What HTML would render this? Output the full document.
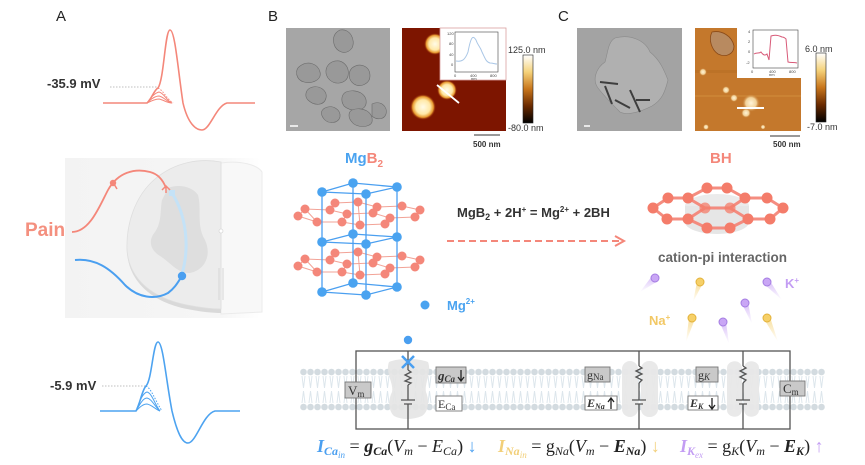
<!DOCTYPE html>
<html><head><meta charset="utf-8"><style>
html,body{margin:0;padding:0;background:#fff;}
svg{display:block;}
text{font-family:"Liberation Sans",sans-serif;}
text.ser{font-family:"Liberation Serif",serif;}
</style></head><body>
<svg width="865" height="465" viewBox="0 0 865 465" xmlns="http://www.w3.org/2000/svg">
<defs>
<linearGradient id="cbB" x1="0" y1="0" x2="0" y2="1">
<stop offset="0" stop-color="#ffffff"/><stop offset="0.25" stop-color="#f5d27a"/><stop offset="0.5" stop-color="#c8761c"/><stop offset="0.75" stop-color="#6a2a00"/><stop offset="1" stop-color="#000"/></linearGradient>
<radialGradient id="blob" cx="0.5" cy="0.5" r="0.5"><stop offset="0" stop-color="#fffbe8"/><stop offset="0.55" stop-color="#ffe9a8"/><stop offset="0.8" stop-color="#e89a30"/><stop offset="1" stop-color="#8a1c00" stop-opacity="0"/></radialGradient>
<radialGradient id="blob2" cx="0.5" cy="0.5" r="0.5"><stop offset="0" stop-color="#fff4d8"/><stop offset="0.6" stop-color="#f2d29a"/><stop offset="1" stop-color="#c4782c" stop-opacity="0"/></radialGradient>
<linearGradient id="tailP" x1="0" y1="0" x2="0" y2="1"><stop offset="0" stop-color="#c9a6f5" stop-opacity="0.7"/><stop offset="1" stop-color="#c9a6f5" stop-opacity="0"/></linearGradient>
<linearGradient id="tailY" x1="0" y1="0" x2="0" y2="1"><stop offset="0" stop-color="#f5d070" stop-opacity="0.7"/><stop offset="1" stop-color="#f5d070" stop-opacity="0"/></linearGradient>
<pattern id="heads" x="300" y="0" width="7" height="465" patternUnits="userSpaceOnUse">
<circle cx="3.5" cy="372" r="3.3" fill="#d3dbe0"/><circle cx="3.5" cy="407" r="3.3" fill="#d3dbe0"/>
<path d="M2,376 L3.5,388 L5,376 M2,403 L3.5,391 L5,403" stroke="#dde6ec" stroke-width="1" fill="none"/>
</pattern>
<linearGradient id="bgfade" x1="0" y1="0" x2="1" y2="0"><stop offset="0" stop-color="#f3f3f3"/><stop offset="0.8" stop-color="#f6f6f6"/><stop offset="1" stop-color="#ffffff"/></linearGradient>
</defs>

<!-- ================= PANEL A ================= -->
<text x="56" y="21" font-size="15" fill="#222">A</text>
<line x1="110" y1="87" x2="157" y2="87" stroke="#aaa" stroke-width="0.8" stroke-dasharray="1.5,1.5"/>
<text x="47" y="88" font-size="13" font-weight="bold" fill="#333">-35.9 mV</text>
<g fill="none" stroke="#f4877a" stroke-width="1.6">
<path d="M103,103 L147,103 C151,100 154,90 158,88 C164,80 165,30 170,30 C175,30 178,70 183,103 C188,124 196,130 202,130 C210,130 216,106 227,103 L255,103"/>
<path d="M147,103 C151,97 155,93 159,92 C164,93 167,101 172,103" stroke-width="1"/>
<path d="M147,103 C151,99 155,96 159,96 C164,97 167,102 172,103" stroke-width="1"/>
<path d="M147,103 C151,101 155,99 159,99 C164,100 167,103 172,103" stroke-width="1"/>
<path d="M158,88 C163,90 166,98 173,103" stroke-width="1" stroke-dasharray="1.5,1.5"/>
</g>

<!-- spinal cord -->
<rect x="65" y="158" width="195" height="160" fill="url(#bgfade)"/>
<path d="M221,163 C240,160 258,165 262,172 L262,312 L221,314 Z" fill="#f8f8f8" stroke="#ebebeb" stroke-width="1"/>
<path d="M221,163 C200,159 175,163 155,180 C135,197 126,225 127,252 C129,282 152,302 187,309 C202,312 213,313 221,313 Z" fill="#d9d9d9"/>
<path d="M221,162 C200,158 175,162 155,179 C135,196 126,224 127,250 C129,279 152,298 187,305 C202,308 213,309 221,309 Z" fill="#ececec" stroke="#dedede" stroke-width="0.8"/>
<path d="M168,188 C178,184 192,186 198,195 C202,210 196,225 205,240 C212,255 205,270 190,273 C178,274 170,262 160,256 C150,250 148,240 155,232 C162,222 160,210 162,200 Z" fill="#dedede"/>
<circle cx="221" cy="231" r="2" fill="#fff" stroke="#ccc" stroke-width="0.6"/>
<path d="M219,268 L219,300 M223,268 L223,300" stroke="#d6d6d6" stroke-width="1"/>
<path d="M172,193 C186,215 190,246 182,274" fill="none" stroke="#c4e2f7" stroke-width="3"/>
<rect x="169" y="190" width="6" height="6" fill="#c4e2f7"/>
<path d="M72,232 C90,232 100,205 108,190 C118,172 135,168 150,172 C158,174 163,180 166,188" fill="none" stroke="#f4877a" stroke-width="1.8"/>
<path d="M114,184 L117,189" stroke="#f4877a" stroke-width="1.5"/>
<circle cx="113" cy="183" r="3.2" fill="#f4877a"/>
<path d="M166,186 L166,193 M162,190 L166,186 L170,190" stroke="#f4877a" stroke-width="1.5" fill="none"/>
<path d="M75,260 C95,258 110,268 125,285 C138,298 155,300 168,293 C175,288 178,282 182,276" fill="none" stroke="#4a9ff0" stroke-width="2"/>
<circle cx="182" cy="276" r="4.2" fill="#4a9ff0"/>
<text x="25" y="236" font-size="19" font-weight="bold" fill="#f4907f">Pain</text>

<!-- bottom trace -->
<line x1="102" y1="386" x2="145" y2="386" stroke="#aaa" stroke-width="0.8" stroke-dasharray="1.5,1.5"/>
<text x="50" y="390" font-size="13" font-weight="bold" fill="#333">-5.9 mV</text>
<g fill="none" stroke="#4da3f0" stroke-width="1.6">
<path d="M100,411 L136,411 C140,404 142,390 146,386 C152,380 153,342 158,342 C163,342 166,380 172,411 C177,432 182,443 188,443 C196,443 203,414 215,411 L240,411"/>
<path d="M136,411 C140,400 143,393 147,392 C152,393 155,405 160,411" stroke-width="1"/>
<path d="M136,411 C140,404 143,398 147,398 C152,399 155,407 160,411" stroke-width="1"/>
<path d="M136,411 C140,407 143,404 147,404 C152,405 155,409 160,411" stroke-width="1"/>
<path d="M146,386 C151,388 155,400 162,411" stroke-width="1" stroke-dasharray="1.5,1.5"/>
</g>

<!-- ================= PANEL B ================= -->
<text x="268" y="21" font-size="15" fill="#222">B</text>
<rect x="286" y="28" width="104" height="103" fill="#a6a6a6"/>
<g fill="#999" stroke="#6c6c6c" stroke-width="0.6">
<path d="M300,66 C308,60 318,64 320,72 C322,80 312,84 304,82 C296,80 294,70 300,66 Z"/>
<path d="M332,62 C342,58 350,66 348,76 C346,84 334,86 328,78 C324,72 326,65 332,62 Z"/>
<path d="M340,30 C350,28 356,40 352,48 C346,56 336,52 334,44 C332,36 336,32 340,30 Z"/>
<path d="M352,68 C360,62 370,66 370,76 C370,84 360,88 354,84 C348,80 348,72 352,68 Z"/>
<path d="M346,92 C356,88 368,94 366,104 C364,112 350,112 344,106 C340,100 342,94 346,92 Z"/>
<path d="M310,88 C318,84 328,90 326,98 C324,106 314,106 308,100 C304,96 306,90 310,88 Z"/>
<path d="M352,110 C362,106 374,112 372,122 C370,128 356,128 352,122 C348,118 348,112 352,110 Z"/>
<path d="M325,108 C333,104 341,110 340,117 C338,124 328,124 324,119 C320,114 321,110 325,108 Z"/>
<path d="M372,104 C380,100 388,106 386,114 C384,120 376,120 372,116 Z"/>
</g>
<line x1="290" y1="126" x2="298" y2="126" stroke="#fff" stroke-width="1.5"/>
<rect x="402" y="28" width="104" height="103" fill="#7d1500"/>
<circle cx="435" cy="44" r="11" fill="url(#blob)"/>
<circle cx="447" cy="90" r="10" fill="url(#blob)"/>
<circle cx="423" cy="107" r="13" fill="url(#blob)"/>
<line x1="437" y1="85" x2="459" y2="103" stroke="#fff" stroke-width="1.8"/>
<rect x="440" y="28" width="66" height="52" fill="#fff" stroke="#d9a0a0" stroke-width="0.8"/>
<rect x="455" y="32" width="43" height="40" fill="none" stroke="#444" stroke-width="0.6"/>
<path d="M456,61 C462,62 465,60 468,52 C471,36 473,35 476,40 C478,46 480,46 482,52 C485,58 486,62 490,63 C493,63 495,64 497,64" fill="none" stroke="#a9c6e6" stroke-width="1"/>
<g font-size="4" fill="#444"><text x="447" y="35">120</text><text x="449" y="45">80</text><text x="449" y="56">40</text><text x="451" y="66">0</text><text x="454" y="77">0</text><text x="470" y="77">400</text><text x="490" y="77">800</text><text x="471" y="80">nm</text></g>
<rect x="523" y="55" width="10" height="68" fill="url(#cbB)" stroke="#222" stroke-width="0.6"/>
<text x="508" y="53" font-size="9" fill="#333">125.0 nm</text>
<text x="508" y="131" font-size="9" fill="#333">-80.0 nm</text>
<line x1="474" y1="135" x2="500" y2="135" stroke="#333" stroke-width="1"/>
<text x="473" y="147" font-size="8" font-weight="bold" fill="#333">500 nm</text>

<!-- ================= PANEL C ================= -->
<text x="558" y="21" font-size="15" fill="#222">C</text>
<rect x="577" y="28" width="105" height="103" fill="#a3a3a3"/>
<path d="M615,38 C630,34 645,40 650,52 C660,60 664,70 668,80 C665,92 662,100 652,106 C640,112 628,116 620,112 C612,104 604,96 598,88 C592,80 596,68 605,62 C608,52 608,42 615,38 Z" fill="#b0b0b0" stroke="#8a8a8a" stroke-width="0.6"/>
<path d="M600,82 L618,84 M605,86 L612,104 M630,90 L640,112 M636,100 L650,100 M615,100 L630,108" stroke="#3e3e3e" stroke-width="2"/>
<line x1="584" y1="126" x2="590" y2="126" stroke="#fff" stroke-width="1.5"/>
<rect x="695" y="28" width="106" height="103" fill="#c4782c"/>
<rect x="695" y="70" width="106" height="3" fill="#b86e24" opacity="0.6"/>
<rect x="695" y="95" width="106" height="2" fill="#d08a3a" opacity="0.6"/>
<path d="M712,32 C722,30 732,36 734,46 C734,54 726,58 718,54 C712,50 708,40 712,32 Z" fill="#b88a60" stroke="#8a4a18" stroke-width="0.8"/>
<circle cx="703" cy="72" r="4" fill="url(#blob2)"/>
<circle cx="726" cy="90" r="4" fill="url(#blob2)"/>
<circle cx="734" cy="98" r="4" fill="url(#blob2)"/>
<circle cx="751" cy="103" r="9" fill="url(#blob2)"/>
<circle cx="746" cy="113" r="5" fill="url(#blob2)"/>
<circle cx="706" cy="127" r="3" fill="url(#blob2)"/>
<circle cx="763" cy="127" r="2.5" fill="url(#blob2)"/>
<line x1="737" y1="108" x2="764" y2="108" stroke="#fff" stroke-width="2"/>
<rect x="737" y="28" width="64" height="50" fill="#fff"/>
<rect x="753" y="30" width="45" height="38" fill="none" stroke="#444" stroke-width="0.6"/>
<path d="M754,54 C757,52 759,54 761,52 C763,55 765,56 767,54 L769,60 L771,36 C776,34 780,36 782,37 C784,37 785,38 786,39 L788,62 C791,63 794,62 797,63" fill="none" stroke="#d85a78" stroke-width="1"/>
<g font-size="4" fill="#444"><text x="748" y="33">4</text><text x="748" y="43">2</text><text x="748" y="53">0</text><text x="746" y="64">-2</text><text x="751" y="73">0</text><text x="769" y="73">400</text><text x="789" y="73">800</text><text x="769" y="76">nm</text></g>
<rect x="816" y="53" width="10" height="69" fill="url(#cbB)" stroke="#222" stroke-width="0.6"/>
<text x="805" y="52" font-size="9" fill="#333">6.0 nm</text>
<text x="807" y="130" font-size="9" fill="#333">-7.0 nm</text>
<line x1="770" y1="136" x2="800" y2="136" stroke="#333" stroke-width="1"/>
<text x="773" y="147" font-size="8" font-weight="bold" fill="#333">500 nm</text>

<!-- ================= MgB2 ================= -->
<text x="345" y="163" font-size="15" font-weight="bold"><tspan fill="#4aa3f0">Mg</tspan><tspan fill="#f4877a">B</tspan><tspan fill="#f4877a" font-size="10" dy="4">2</tspan></text>
<g stroke="#f2a397" stroke-width="1" fill="none">
<path d="M298,216 L305,209 L330,210 L335,203 L358,202 L377,207 L402,206 L420,210 L415,217 L390,218 L385,224 L360,225 L342,222 L317,222 L298,216"/>
<path d="M330,210 L347,214 L342,222 M347,214 L373,213 L377,207 M373,213 L390,218 M305,209 L317,222 M358,202 L360,225"/>
</g>
<g fill="#f4877a">
<circle cx="305" cy="209" r="4.5"/><circle cx="298" cy="216" r="4.5"/><circle cx="317" cy="222" r="4.5"/><circle cx="335" cy="203" r="4.5"/><circle cx="330" cy="210" r="4.5"/><circle cx="347" cy="214" r="4.5"/><circle cx="342" cy="222" r="4.5"/><circle cx="358" cy="202" r="4.5"/><circle cx="360" cy="225" r="4.5"/><circle cx="377" cy="207" r="4.5"/><circle cx="373" cy="213" r="4.5"/><circle cx="390" cy="218" r="4.5"/><circle cx="385" cy="224" r="4.5"/><circle cx="402" cy="206" r="4.5"/><circle cx="415" cy="217" r="4.5"/><circle cx="420" cy="210" r="4.5"/>
</g>
<g transform="translate(0,50)">
<g stroke="#f2a397" stroke-width="1" fill="none">
<path d="M298,216 L305,209 L330,210 L335,203 L358,202 L377,207 L402,206 L420,210 L415,217 L390,218 L385,224 L360,225 L342,222 L317,222 L298,216"/>
<path d="M330,210 L347,214 L342,222 M347,214 L373,213 L377,207 M373,213 L390,218 M305,209 L317,222 M358,202 L360,225"/>
</g>
<g fill="#f4877a">
<circle cx="305" cy="209" r="4.5"/><circle cx="298" cy="216" r="4.5"/><circle cx="317" cy="222" r="4.5"/><circle cx="335" cy="203" r="4.5"/><circle cx="330" cy="210" r="4.5"/><circle cx="347" cy="214" r="4.5"/><circle cx="342" cy="222" r="4.5"/><circle cx="358" cy="202" r="4.5"/><circle cx="360" cy="225" r="4.5"/><circle cx="377" cy="207" r="4.5"/><circle cx="373" cy="213" r="4.5"/><circle cx="390" cy="218" r="4.5"/><circle cx="385" cy="224" r="4.5"/><circle cx="402" cy="206" r="4.5"/><circle cx="415" cy="217" r="4.5"/><circle cx="420" cy="210" r="4.5"/>
</g></g>
<g stroke="#4a9ff0" stroke-width="1.3" fill="none">
<path d="M322,192 L353,183 L397,187 L366,194 Z"/>
<path d="M322,242 L353,234 L397,237 L366,244 Z"/>
<path d="M322,292 L353,283 L397,287 L366,295 Z"/>
<path d="M322,192 L322,292 M353,183 L353,283 M366,194 L366,295 M397,187 L397,287"/>
</g>
<g fill="#4aa3f0">
<circle cx="322" cy="192" r="4.8"/><circle cx="353" cy="183" r="4.8"/><circle cx="366" cy="194" r="4.8"/><circle cx="397" cy="187" r="4.8"/>
<circle cx="322" cy="242" r="4.8"/><circle cx="353" cy="234" r="4.8"/><circle cx="366" cy="244" r="4.8"/><circle cx="397" cy="237" r="4.8"/>
<circle cx="322" cy="292" r="4.8"/><circle cx="353" cy="283" r="4.8"/><circle cx="366" cy="295" r="4.8"/><circle cx="397" cy="287" r="4.8"/>
<circle cx="425" cy="305" r="4.5"/>
</g>
<text x="447" y="310" font-size="13" font-weight="bold" fill="#4aa3f0">Mg<tspan font-size="8" dy="-6">2+</tspan></text>

<text x="457" y="217" font-size="13" font-weight="bold" fill="#333">MgB<tspan font-size="9" dy="3">2</tspan><tspan dy="-3"> + 2H</tspan><tspan font-size="8" dy="-5">+</tspan><tspan dy="5"> = Mg</tspan><tspan font-size="8" dy="-5">2+</tspan><tspan dy="5"> + 2BH</tspan></text>
<line x1="447" y1="241" x2="620" y2="241" stroke="#f4877a" stroke-width="2" stroke-dasharray="7,4"/>
<path d="M615,236 L624,241 L615,246" fill="none" stroke="#f4877a" stroke-width="2"/>

<!-- BH -->
<text x="710" y="163" font-size="15" font-weight="bold" fill="#f4877a">BH</text>
<path d="M685,206 L685,222 A32,12 0 0 0 749,222 L749,206 Z" fill="#dcdcdc" opacity="0.7"/>
<ellipse cx="717" cy="206" rx="32" ry="12" fill="#e6e6e6" opacity="0.8"/>
<g stroke="#f4877a" stroke-width="3" fill="none" opacity="0.95">
<path d="M653,208 L668,198 L688,198 L707,188 L727,188 L745,198 L767,198 L783,208 L770,219 L748,219 L730,228 L707,228 L688,219 L667,219 Z"/>
<path d="M688,198 L705,208 L730,208 L745,198 M688,219 L705,208 M730,208 L748,219"/>
</g>
<g fill="#f47c6a">
<circle cx="653" cy="208" r="5.5"/><circle cx="668" cy="198" r="5.5"/><circle cx="667" cy="219" r="5.5"/><circle cx="688" cy="198" r="5.5"/><circle cx="707" cy="188" r="5.5"/><circle cx="727" cy="188" r="5.5"/><circle cx="745" cy="198" r="5.5"/><circle cx="767" cy="198" r="5.5"/><circle cx="783" cy="208" r="5.5"/><circle cx="770" cy="219" r="5.5"/><circle cx="748" cy="219" r="5.5"/><circle cx="730" cy="228" r="5.5"/><circle cx="707" cy="228" r="5.5"/><circle cx="688" cy="219" r="5.5"/>
<circle cx="705" cy="208" r="5.5" opacity="0.75"/><circle cx="730" cy="208" r="5.5" opacity="0.75"/>
</g>
<text x="658" y="262" font-size="13.5" font-weight="bold" fill="#666">cation-pi interaction</text>

<g>
<path d="M652,276 L658,281 L640,292 Z" fill="url(#tailP)"/>
<path d="M697,282 L703,283 L693,302 Z" fill="url(#tailY)"/>
<path d="M764,284 L770,281 L782,300 Z" fill="url(#tailP)"/>
<path d="M742,304 L748,302 L752,324 Z" fill="url(#tailP)"/>
<path d="M689,318 L695,319 L686,342 Z" fill="url(#tailY)"/>
<path d="M720,323 L726,322 L729,344 Z" fill="url(#tailP)"/>
<path d="M764,319 L770,317 L778,342 Z" fill="url(#tailY)"/>
</g>
<g stroke-width="1">
<circle cx="655" cy="278" r="4" fill="#c9a6f5" stroke="#a47ce2"/>
<circle cx="700" cy="282" r="4" fill="#f6d068" stroke="#e3b23a"/>
<circle cx="767" cy="282" r="4" fill="#c9a6f5" stroke="#a47ce2"/>
<circle cx="745" cy="303" r="4" fill="#c9a6f5" stroke="#a47ce2"/>
<circle cx="692" cy="318" r="4" fill="#f6d068" stroke="#e3b23a"/>
<circle cx="723" cy="322" r="4" fill="#c9a6f5" stroke="#a47ce2"/>
<circle cx="767" cy="318" r="4" fill="#f6d068" stroke="#e3b23a"/>
</g>
<text x="785" y="288" font-size="13" font-weight="bold" fill="#c39df3">K<tspan font-size="8" dy="-5">+</tspan></text>
<text x="649" y="325" font-size="13" font-weight="bold" fill="#f2c865">Na<tspan font-size="8" dy="-5">+</tspan></text>

<!-- ================= MEMBRANE ================= -->
<rect x="300" y="366" width="525" height="46" fill="url(#heads)"/>
<path d="M389,362 C398,358 418,358 428,362 C432,372 424,384 426,392 C430,402 428,412 422,416 C412,420 402,420 394,416 C388,410 388,400 392,392 C394,384 385,372 389,362 Z" fill="#e4e4e4" opacity="0.9"/>
<rect x="622" y="361" width="16" height="56" rx="8" fill="#e8e8e8" opacity="0.95"/>
<rect x="641" y="361" width="17" height="56" rx="8" fill="#e8e8e8" opacity="0.95"/>
<path d="M727,368 C727,360 741,358 742,368 L742,410 C741,420 727,418 727,410 Z" fill="#e8e8e8" opacity="0.95"/>
<path d="M744,368 C745,358 759,360 759,368 L759,410 C759,418 745,420 744,410 Z" fill="#e8e8e8" opacity="0.95"/>
<g stroke="#555" stroke-width="1.3" fill="none">
<rect x="356" y="351" width="434" height="78"/>
<path d="M408,351 L408,370 M408,385 L408,400 M408,404 L408,429"/>
<path d="M408,370 L411,372 L405,375 L411,378 L405,381 L411,383 L408,385"/>
<path d="M401,400 L415,400 M404,404 L412,404"/>
<path d="M639,351 L639,366 M639,383 L639,400 M639,404 L639,429"/>
<path d="M639,366 L642,368 L636,371 L642,374 L636,377 L642,380 L639,383"/>
<path d="M632,400 L646,400 M635,404 L643,404"/>
<path d="M743,351 L743,366 M743,383 L743,400 M743,404 L743,429"/>
<path d="M743,366 L746,368 L740,371 L746,374 L740,377 L746,380 L743,383"/>
<path d="M736,400 L750,400 M739,404 L747,404"/>
</g>
<circle cx="408" cy="340" r="4.2" fill="#4a9ff0"/>
<path d="M402,356 L414,368 M414,356 L402,368" stroke="#4a9ff0" stroke-width="2.5"/>
<g stroke="#777" stroke-width="0.9">
<rect x="345" y="382" width="26" height="16" fill="#c9c9c9"/>
<rect x="436" y="367" width="30" height="16" fill="#c9c9c9"/>
<rect x="436" y="396" width="26" height="15" fill="#fff"/>
<rect x="585" y="367" width="25" height="15" fill="#c9c9c9"/>
<rect x="585" y="396" width="32" height="14" fill="#fff"/>
<rect x="696" y="367" width="22" height="15" fill="#c9c9c9"/>
<rect x="688" y="396" width="30" height="14" fill="#fff"/>
<rect x="780" y="381" width="25" height="15" fill="#c9c9c9"/>
</g>
<g fill="#333">
<text class="ser" x="348" y="395" font-size="13">V<tspan font-size="9" dy="2">m</tspan></text>
<text class="ser" x="438" y="380" font-size="13" font-weight="bold" font-style="italic">g<tspan font-size="9" dy="2">Ca</tspan></text>
<text class="ser" x="438" y="408" font-size="12">E<tspan font-size="9" dy="2">Ca</tspan></text>
<text class="ser" x="587" y="379" font-size="12">g<tspan font-size="9" dy="1">Na</tspan></text>
<text class="ser" x="587" y="407" font-size="12" font-weight="bold" font-style="italic">E<tspan font-size="8" dy="2">Na</tspan></text>
<text class="ser" x="698" y="379" font-size="12">g<tspan font-size="9" dy="1" font-style="italic">K</tspan></text>
<text class="ser" x="690" y="407" font-size="12" font-weight="bold" font-style="italic">E<tspan font-size="8" dy="2">K</tspan></text>
<text class="ser" x="783" y="393" font-size="13">C<tspan font-size="9" dy="2">m</tspan></text>
</g>
<g stroke="#222" stroke-width="1.3" fill="none">
<path d="M461,370 L461,381 M458,377 L461,381 L464,377"/>
<path d="M611,409 L611,398 M608,402 L611,398 L614,402"/>
<path d="M712,398 L712,409 M709,405 L712,409 L715,405"/>
</g>

<!-- equations -->
<text class="ser" x="317" y="452" font-size="18"><tspan fill="#4a9ff0" font-style="italic" font-weight="bold">I</tspan><tspan fill="#4a9ff0" font-style="italic" font-weight="bold" font-size="12" dy="3">Ca</tspan><tspan fill="#4a9ff0" font-style="italic" font-size="9" dy="3">in</tspan><tspan dy="-6" fill="#222"> = </tspan><tspan fill="#222" font-style="italic" font-weight="bold">g</tspan><tspan fill="#222" font-style="italic" font-weight="bold" font-size="12" dy="3">Ca</tspan><tspan fill="#222" dy="-3">(</tspan><tspan fill="#222" font-style="italic">V</tspan><tspan fill="#222" font-style="italic" font-size="12" dy="3">m</tspan><tspan fill="#222" dy="-3"> − </tspan><tspan fill="#222" font-style="italic">E</tspan><tspan fill="#222" font-style="italic" font-size="12" dy="3">Ca</tspan><tspan fill="#222" dy="-3">) </tspan><tspan fill="#4a9ff0">↓</tspan></text>
<text class="ser" x="498" y="452" font-size="18"><tspan fill="#f2cf78" font-style="italic" font-weight="bold">I</tspan><tspan fill="#f2cf78" font-style="italic" font-weight="bold" font-size="12" dy="3">Na</tspan><tspan fill="#f2cf78" font-style="italic" font-size="9" dy="3">in</tspan><tspan dy="-6" fill="#222"> = g</tspan><tspan fill="#222" font-size="12" dy="3" font-style="italic">Na</tspan><tspan fill="#222" dy="-3">(</tspan><tspan fill="#222" font-style="italic">V</tspan><tspan fill="#222" font-style="italic" font-size="12" dy="3">m</tspan><tspan fill="#222" dy="-3"> − </tspan><tspan fill="#222" font-style="italic" font-weight="bold">E</tspan><tspan fill="#222" font-style="italic" font-weight="bold" font-size="12" dy="3">Na</tspan><tspan fill="#222" dy="-3">) </tspan><tspan fill="#f2cf78">↓</tspan></text>
<text class="ser" x="680" y="452" font-size="18"><tspan fill="#c39df3" font-style="italic" font-weight="bold">I</tspan><tspan fill="#c39df3" font-style="italic" font-weight="bold" font-size="12" dy="3">K</tspan><tspan fill="#c39df3" font-style="italic" font-size="9" dy="3">ex</tspan><tspan dy="-6" fill="#222"> = g</tspan><tspan fill="#222" font-style="italic" font-size="12" dy="3">K</tspan><tspan fill="#222" dy="-3">(</tspan><tspan fill="#222" font-style="italic">V</tspan><tspan fill="#222" font-style="italic" font-size="12" dy="3">m</tspan><tspan fill="#222" dy="-3"> − </tspan><tspan fill="#222" font-style="italic" font-weight="bold">E</tspan><tspan fill="#222" font-style="italic" font-weight="bold" font-size="12" dy="3">K</tspan><tspan fill="#222" dy="-3">) </tspan><tspan fill="#c39df3">↑</tspan></text>
</svg>
</body></html>
